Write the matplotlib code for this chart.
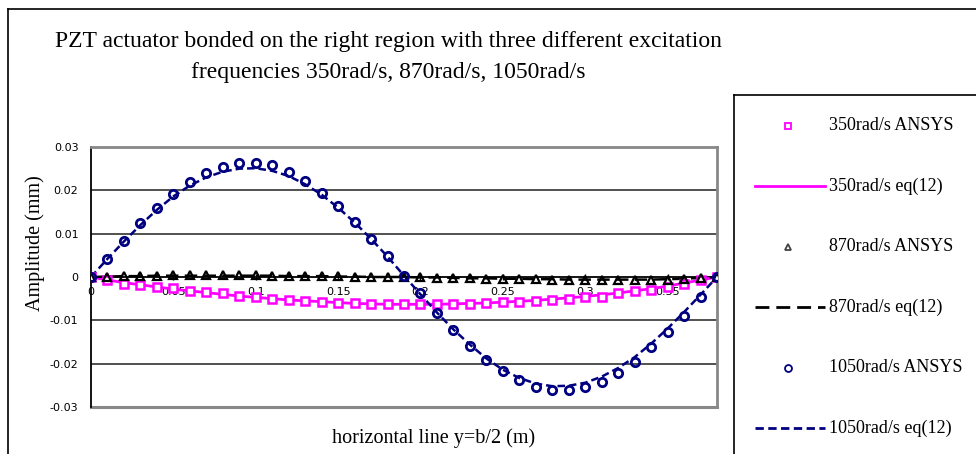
import numpy as np
import matplotlib
matplotlib.use("Agg")
import matplotlib.pyplot as plt
from matplotlib.lines import Line2D

# --- data ---
x_pos = [round(0.01 * i, 2) for i in range(39)]  # 0 .. 0.38

ansys_350 = [0, -.0008, -.0015, -.0019, -.0023, -.0025, -.0032, -.0035, -.0038, -.0044,
             -.0046, -.0050, -.0054, -.0055, -.0058, -.0060, -.0060, -.0063, -.0063, -.0063,
             -.0062, -.0062, -.0062, -.0062, -.0059, -.0057, -.0057, -.0055, -.0052, -.0050,
             -.0046, -.0045, -.0037, -.0033, -.0029, -.0023, -.0015, -.0008, 0]
eq_350 = [0, -.0007, -.0013, -.0018, -.0023, -.0028, -.0032, -.0036, -.0040, -.0044,
          -.0047, -.0050, -.0053, -.0055, -.0057, -.0059, -.0061, -.0062, -.0063, -.0063,
          -.0063, -.0063, -.0062, -.0061, -.0060, -.0058, -.0056, -.0054, -.0051, -.0048,
          -.0045, -.0041, -.0037, -.0032, -.0027, -.0021, -.0014, -.0007, 0]

ansys_870 = [0, .0001, .0002, .0003, .0003, .0004, .0004, .0004, .0004, .0004,
             .0004, .0003, .0003, .0003, .0002, .0002, .0001, .0001, 0, 0,
             -.0001, -.0002, -.0002, -.0003, -.0004, -.0004, -.0005, -.0005, -.0006, -.0006,
             -.0007, -.0007, -.0007, -.0007, -.0007, -.0006, -.0005, -.0003, 0]
eq_870 = [0, .0001, .0002, .0002, .0003, .0003, .0003, .0003, .0003, .0003,
          .0003, .0003, .0002, .0002, .0002, .0001, .0001, 0, 0, 0,
          -.0001, -.0001, -.0002, -.0003, -.0003, -.0004, -.0004, -.0005, -.0005, -.0006,
          -.0006, -.0006, -.0006, -.0006, -.0006, -.0005, -.0004, -.0002, 0]

ansys_1050 = [0, .0042, .0083, .0125, .0160, .0191, .0219, .0240, .0254, .0262,
              .0262, .0258, .0243, .0222, .0194, .0165, .0127, .0088, .0048, .0002,
              -.0037, -.0083, -.0122, -.0159, -.0192, -.0217, -.0238, -.0253, -.0261, -.0261,
              -.0254, -.0242, -.0221, -.0196, -.0161, -.0126, -.0090, -.0046, 0]
eq_1050 = [0, .0042, .0082, .0120, .0155, .0186, .0211, .0230, .0243, .0250,
           .0251, .0245, .0233, .0214, .0190, .0160, .0126, .0088, .0047, .0003,
           -.0040, -.0082, -.0121, -.0156, -.0188, -.0214, -.0233, -.0246, -.0252, -.0251,
           -.0244, -.0230, -.0210, -.0185, -.0154, -.0119, -.0081, -.0041, 0]

x_ticks = [0, 0.05, 0.1, 0.15, 0.2, 0.25, 0.3, 0.35]
x_tick_labels = ["0", "0.05", "0.1", "0.15", "0.2", "0.25", "0.3", "0.35"]
y_ticks = [-0.03, -0.02, -0.01, 0, 0.01, 0.02, 0.03]
y_tick_labels = ["-0.03", "-0.02", "-0.01", "0", "0.01", "0.02", "0.03"]

legend_labels = ["350rad/s ANSYS", "350rad/s eq(12)", "870rad/s ANSYS",
                 "870rad/s eq(12)", "1050rad/s ANSYS", "1050rad/s eq(12)"]

title = ("PZT actuator bonded on the right region with three different excitation\n"
         "frequencies 350rad/s, 870rad/s, 1050rad/s")

MAGENTA = "#FF00FF"
NAVY = "#000080"
SERIF = "Liberation Serif"

W, H = 976, 454
fig = plt.figure(figsize=(W / 100, H / 100), dpi=100)
fig.patch.set_facecolor("white")


def fx(px):
    return px / W


def fy(py):
    return 1 - py / H


# outer chart frame (only left and top edges are visible)
fig.add_artist(Line2D([fx(8), fx(8)], [fy(9), fy(460)], color="black", lw=1.2))
fig.add_artist(Line2D([fx(8), fx(980)], [fy(9), fy(9)], color="black", lw=1.2))

fig.text(fx(388), fy(57), title, ha="center", va="center", fontsize=17,
         family=SERIF, linespacing=1.6)

ax = fig.add_axes([fx(91), fy(407), fx(717 - 91), (407 - 147) / H])
ax.set_xlim(0, 0.38)
ax.set_ylim(-0.03, 0.03)

for yv in [-0.02, -0.01, 0.01, 0.02]:
    ax.axhline(yv, color="#222222", lw=1.1, zorder=1)
ax.axhline(-0.03, color="#888888", lw=2.2, zorder=1, clip_on=False)

for s in ["top", "right"]:
    ax.spines[s].set_color("#888888")
    ax.spines[s].set_linewidth(2)
ax.spines["left"].set_color("black")
ax.spines["left"].set_linewidth(1.3)
ax.spines["bottom"].set_position(("data", 0))
ax.spines["bottom"].set_color("black")
ax.spines["bottom"].set_linewidth(1.3)

ax.set_xticks(x_ticks)
ax.set_xticklabels(x_tick_labels)
ax.set_yticks(y_ticks)
ax.set_yticklabels(y_tick_labels)
ax.tick_params(axis="x", direction="inout", length=5, width=1, pad=5, labelsize=8)
ax.tick_params(axis="y", length=0, pad=9, labelsize=8)
for lab in ax.get_xticklabels() + ax.get_yticklabels():
    lab.set_family("DejaVu Sans")

# series
ax.plot(x_pos, eq_350, color=MAGENTA, lw=2, zorder=3)
ax.plot(x_pos, eq_870, color="black", lw=1.8, dashes=(5, 2.5), zorder=3)
ax.plot(x_pos, eq_1050, color=NAVY, lw=1.8, dashes=(3, 1.6), zorder=3)
ax.plot(x_pos, ansys_350, ls="none", marker="s", ms=6, mfc="white", mec=MAGENTA, mew=1.8, zorder=4)
ax.plot(x_pos, ansys_870, ls="none", marker="^", ms=6, mfc="none", mec="black", mew=1.6, zorder=4)
ax.plot(x_pos, ansys_1050, ls="none", marker="o", ms=6, mfc="none", mec=NAVY, mew=2, zorder=5)

fig.text(fx(35), fy(243), "Amplitude (mm)", rotation=90, ha="center", va="center",
         fontsize=14.5, family=SERIF)
fig.text(fx(434), fy(438), "horizontal line y=b/2 (m)", ha="center", va="center",
         fontsize=14.5, family=SERIF)

# legend box (runs off the image on the right and bottom)
fig.add_artist(Line2D([fx(734), fx(734)], [fy(95), fy(460)], color="black", lw=1.2))
fig.add_artist(Line2D([fx(734), fx(980)], [fy(95), fy(95)], color="black", lw=1.2))

legend_styles = [
    dict(ls="none", marker="s", ms=5, mfc="white", mec=MAGENTA, mew=1.3),
    dict(color=MAGENTA, lw=2),
    dict(ls="none", marker="^", ms=5, mfc="white", mec="#444444", mew=1.3),
    dict(color="black", lw=2, dashes=(5, 2.5)),
    dict(ls="none", marker="o", ms=5, mfc="white", mec=NAVY, mew=1.3),
    dict(color=NAVY, lw=2, dashes=(3, 1.6)),
]
for i, (lab, st) in enumerate(zip(legend_labels, legend_styles)):
    yy = fy(126 + i * 60.4)
    if "marker" in st:
        fig.add_artist(Line2D([fx(788)], [yy], **st))
    else:
        fig.add_artist(Line2D([fx(755), fx(825)], [yy, yy], **st))
    fig.text(fx(829), yy, lab, ha="left", va="center", fontsize=13, family=SERIF)

fig.savefig("out.png", dpi=100)
